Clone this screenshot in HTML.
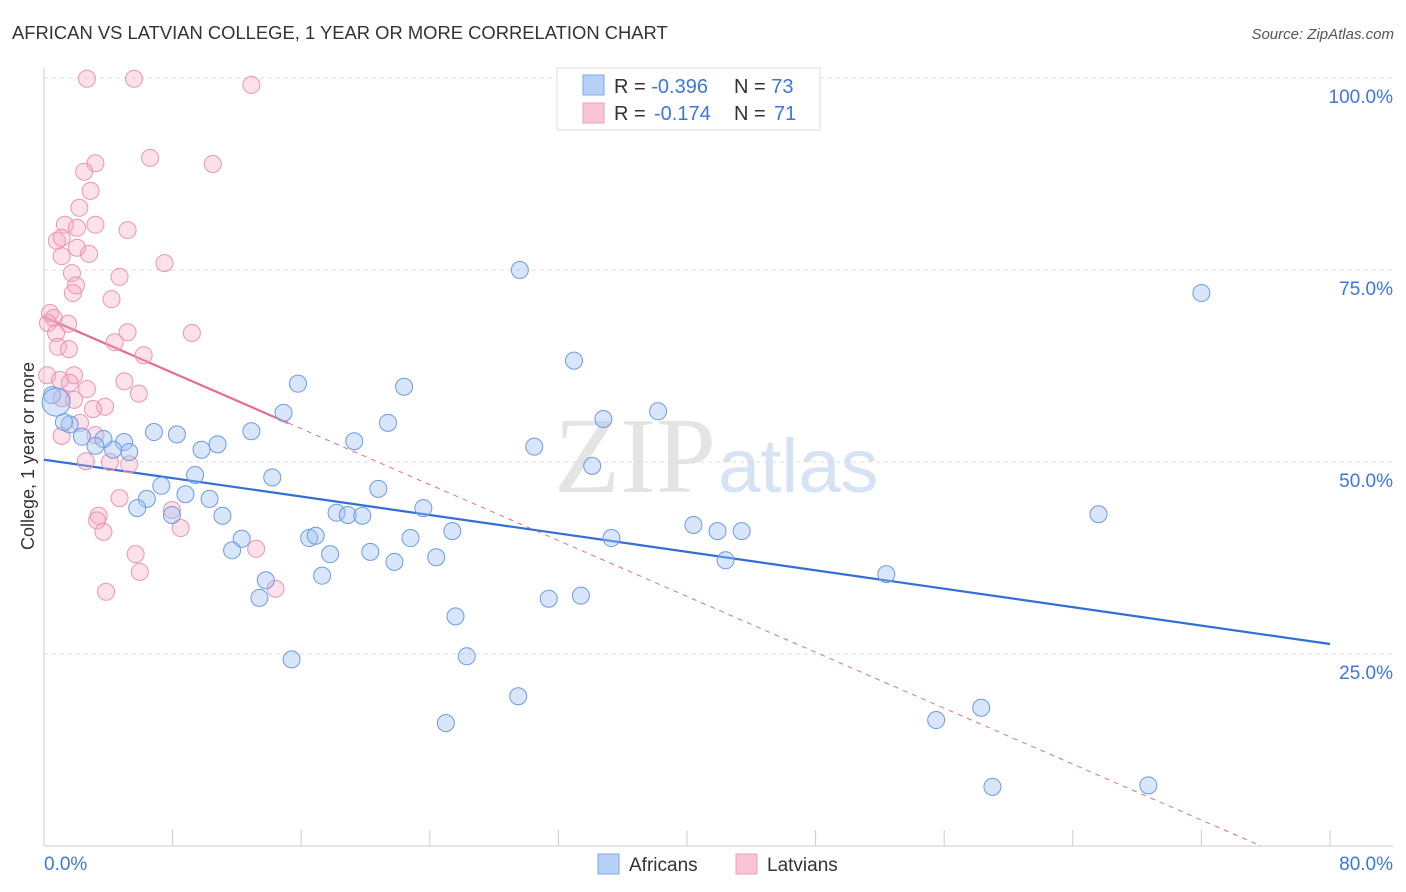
<!DOCTYPE html>
<html><head><meta charset="utf-8"><style>
body{margin:0;background:#fff;font-family:"Liberation Sans",sans-serif;}
svg{display:block}
</style></head><body>
<svg id="chart" width="1406" height="892">
<text x="12" y="39" font-size="18.4" fill="#333">AFRICAN VS LATVIAN COLLEGE, 1 YEAR OR MORE CORRELATION CHART</text>
<text x="1394" y="39" font-size="15" fill="#555" font-style="italic" text-anchor="end">Source: ZipAtlas.com</text>
<text x="716" y="492" font-size="108" font-family="Liberation Serif,serif" fill="#e4e4e4" text-anchor="end">ZIP</text>
<text x="718" y="492" font-size="76" fill="#d6e3f3">atlas</text>
<g id="grid"></g><g id="axes"></g>
<g id="lines"></g><g id="pts"></g>
<text transform="translate(34,456) rotate(-90)" font-size="18" fill="#333" text-anchor="middle">College, 1 year or more</text>
<g>
<rect x="557" y="68" width="263" height="62" fill="#fff" stroke="#ddd"/>
<rect x="583" y="75" width="21" height="20" fill="#b7d0f5" stroke="#7fa7e6"/>
<rect x="583" y="103" width="21" height="20" fill="#f9c4d4" stroke="#eea0b9"/>
<text x="614" y="93" font-size="20" fill="#333">R = <tspan fill="#3b78d8">-0.396</tspan><tspan x="734">N = </tspan><tspan fill="#3b78d8">73</tspan></text>
<text x="614" y="120" font-size="20" fill="#333">R = <tspan x="654" fill="#3b78d8">-0.174</tspan><tspan x="734">N = </tspan><tspan x="774" fill="#3b78d8">71</tspan></text>
</g>
<g>
<rect x="598" y="854" width="21" height="20" fill="#b7d0f5" stroke="#7fa7e6"/>
<text x="629" y="871" font-size="19" fill="#333">Africans</text>
<rect x="736" y="854" width="21" height="20" fill="#f9c4d4" stroke="#eea0b9"/>
<text x="767" y="871" font-size="19" fill="#333">Latvians</text>
</g>
</svg>
<script>
const yTicks=[100,75,50,25];
const yTickLabels=["100.0%","75.0%","50.0%","25.0%"];
const xTickLabels=["0.0%","80.0%"];
const africansX=[29.6,72.0,32.97,15.8,22.4,38.2,34.8,14.9,21.4,30.5,19.3,34.1,6.84,8.27,10.8,9.8,12.9,4.98,5.3,4.3,3.7,3.2,2.36,1.6,1.24,0.5,9.4,14.2,7.3,8.8,6.4,10.3,5.8,7.96,11.1,20.8,23.6,18.2,18.9,19.8,25.4,16.5,16.9,12.3,22.8,35.3,40.4,41.9,43.4,65.6,11.7,17.8,20.3,24.4,21.8,42.4,17.3,13.8,52.4,31.4,33.4,13.4,25.6,26.3,15.4,29.5,25.0,55.5,58.3,59.0,68.7,0.75];
const africansY=[75.0,72.0,63.2,60.2,59.8,56.6,55.6,56.4,55.1,52.0,52.7,49.5,53.9,53.6,52.3,51.6,54.0,52.6,51.3,51.6,53.0,52.1,53.3,54.9,55.2,58.7,48.3,48.0,46.9,45.8,45.2,45.2,44.0,43.1,43.0,46.5,44.0,43.4,43.1,43.0,41.0,40.1,40.4,40.0,40.1,40.1,41.8,41.0,41.0,43.2,38.5,38.0,38.3,37.6,37.0,37.2,35.2,34.6,35.4,32.2,32.6,32.3,29.9,24.7,24.3,19.5,16.0,16.4,18.0,7.7,7.9,57.8];
const latviansX=[2.67,5.6,12.9,3.2,6.6,10.5,2.5,2.9,2.2,1.3,3.2,2.05,5.2,0.8,1.1,2.05,2.8,1.1,7.5,1.74,4.7,1.99,1.8,4.2,0.37,0.6,0.25,1.5,0.75,5.2,9.2,4.4,0.87,1.55,6.2,0.2,1.87,1.0,5.0,1.6,2.67,5.9,1.1,1.87,3.8,3.05,2.24,1.1,3.2,2.6,4.1,5.3,4.7,7.96,3.4,3.3,8.5,3.7,13.2,5.7,5.96,14.4,3.86];
const latviansY=[99.9,99.9,99.1,88.9,89.6,88.8,87.8,85.3,83.1,80.9,80.9,80.5,80.2,78.8,79.2,77.9,77.1,76.8,75.9,74.6,74.1,73.0,72.0,71.2,69.4,68.75,68.1,68.0,66.8,66.9,66.8,65.6,65.0,64.7,63.9,61.3,61.3,60.7,60.5,60.3,59.5,58.9,58.3,58.1,57.2,56.9,55.1,53.4,53.5,50.1,50.0,49.7,45.3,43.75,43.0,42.4,41.4,40.9,38.7,38.0,35.7,33.5,33.1];
const africanFit=[50.3,26.3];
const latvianFit=[68.9,-0.91];
const NS="http://www.w3.org/2000/svg";
const X=v=>44+v/80*1286, Y=v=>846-v/100*768;
function mk(t,a,p){const e=document.createElementNS(NS,t);for(const k in a)e.setAttribute(k,a[k]);p.appendChild(e);return e;}
const grid=document.getElementById('grid'),axes=document.getElementById('axes');
yTicks.forEach((t,i)=>{
 const l=mk('line',{x1:44,x2:1393,y1:Y(t),y2:Y(t),stroke:'#ddd','stroke-dasharray':'4,4'},grid);
 
 
 const tx=mk('text',{x:1393,y:Y(t)+25,'font-size':19,fill:'#3b78d8','text-anchor':'end'},axes);
 tx.textContent=yTickLabels[i];
 
 
});
const yl=mk('line',{x1:44,x2:44,y1:68,y2:846,stroke:'#ccc'},axes);


const xl=mk('line',{x1:44,x2:1393,y1:846,y2:846,stroke:'#ccc'},axes);


for(let i=0;i<=10;i++){const t=mk('line',{x1:X(i*8),x2:X(i*8),y1:830,y2:846,stroke:'#ccc'},axes);
 
 }
[[0,'start',44],[80,'end',1393]].forEach((d,i)=>{const t=mk('text',{x:d[2],y:870,'font-size':19,fill:'#3b78d8','text-anchor':d[1]},axes);t.textContent=xTickLabels[i];
 
 });
const lines=document.getElementById('lines');
const bl=mk('line',{x1:X(0),y1:Y(africanFit[0]),x2:X(80),y2:Y(africanFit[1]),stroke:'#2f6fd6','stroke-width':2.2},lines);


const xEnd=-latvianFit[0]/latvianFit[1];
const pd=mk('line',{x1:X(15.2),y1:Y(latvianFit[0]+latvianFit[1]*15.2),x2:X(xEnd),y2:Y(0),stroke:'#e56b95','stroke-width':1,'stroke-dasharray':'5,5'},lines);


const pl=mk('line',{x1:X(0),y1:Y(latvianFit[0]),x2:X(15.2),y2:Y(latvianFit[0]+latvianFit[1]*15.2),stroke:'#e56b95','stroke-width':2.2},lines);


const pts=document.getElementById('pts');
latviansX.forEach((x,i)=>{const c=mk('circle',{cx:X(x),cy:Y(latviansY[i]),r:8.5,fill:'rgba(246,170,196,0.35)',stroke:'#ec94b3','stroke-width':1},pts);
 
 });
africansX.forEach((x,i)=>{const big=i===africansX.length-1;const c=mk('circle',{cx:X(x),cy:Y(africansY[i]),r:big?14:8.5,fill:'rgba(160,192,242,0.4)',stroke:'#6b9be3','stroke-width':1},pts);
 
 });
</script>
</body></html>
